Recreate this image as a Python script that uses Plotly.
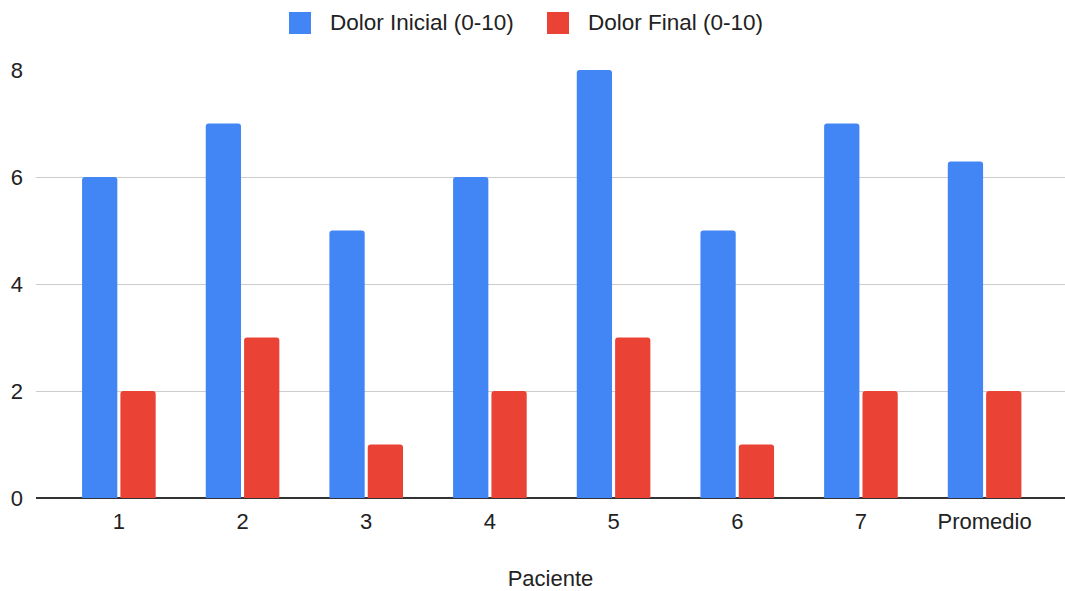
import plotly.graph_objects as go

pacientes = ["1", "2", "3", "4", "5", "6", "7", "Promedio"]
dolor_inicial = [6, 7, 5, 6, 8, 5, 7, 6.29]
dolor_final = [2, 3, 1, 2, 3, 1, 2, 2]
y_ticks = [0, 2, 4, 6, 8]
series_names = ["Dolor Inicial (0-10)", "Dolor Final (0-10)"]
series_colors = ["#4285F4", "#EA4335"]

FONT = "Arial, 'Liberation Sans', sans-serif"
W, H = 1065, 591
M_L, M_R, M_T, M_B = 36, 0, 70, 93

fig = go.Figure()
for name, vals, col in zip(series_names, [dolor_inicial, dolor_final], series_colors):
    fig.add_trace(go.Bar(x=pacientes, y=vals, name=name, showlegend=False,
                         marker=dict(color=col, line=dict(width=0))))

# Legend drawn in paper space above the plot: square swatch + label per series
plot_w = W - M_L - M_R
plot_h = H - M_T - M_B
def px_x(px):
    return (px - M_L) / plot_w
def px_y(py):
    return (H - M_B - py) / plot_h

legend_items = [(289, 328), (547, 586)]
for (sx, tx), name, col in zip(legend_items, series_names, series_colors):
    fig.add_shape(type="rect", xref="paper", yref="paper",
                  x0=px_x(sx), x1=px_x(sx + 22), y0=px_y(34), y1=px_y(12),
                  fillcolor=col, line=dict(width=0), layer="above")
    fig.add_annotation(xref="paper", yref="paper", x=px_x(tx), y=px_y(23),
                       xanchor="left", yanchor="middle", text=name, showarrow=False,
                       font=dict(family=FONT, size=22.5, color="#222222"))

fig.update_layout(
    width=W, height=H,
    margin=dict(l=M_L, r=M_R, t=M_T, b=M_B),
    paper_bgcolor="white", plot_bgcolor="white",
    barmode="group", bargap=0.38, bargroupgap=0.08, barcornerradius=3,
    font=dict(family=FONT, size=22, color="#222222"),
    showlegend=False,
    xaxis=dict(range=[-0.67, 7.65], showgrid=False, showline=False,
               ticks="", tickfont=dict(size=22), ticklabelstandoff=8,
               title=dict(text="Paciente", font=dict(size=22), standoff=42)),
    yaxis=dict(range=[0, 8], tickvals=y_ticks, showgrid=True, gridcolor="#cccccc",
               gridwidth=1, zeroline=True, zerolinecolor="#333333", zerolinewidth=2,
               showline=False, ticks="", tickfont=dict(size=22), ticklabelstandoff=12),
)

fig.write_html("out.html")
